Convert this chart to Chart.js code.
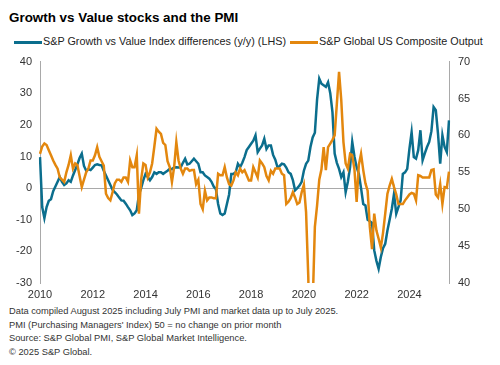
<!DOCTYPE html>
<html>
<head>
<meta charset="utf-8">
<script src="https://cdn.jsdelivr.net/npm/chart.js@4.4.1/dist/chart.umd.min.js"></script>
<style>
  body { margin: 0; width: 500px; height: 365px; background: #fff; position: relative; overflow: hidden;
         font-family: "Liberation Sans", Arial, sans-serif; }
  #title { position: absolute; left: 9px; top: 10px; font-size: 13.4px; font-weight: bold; color: #000; }
  #legend { position: absolute; left: 14px; top: 35px; font-size: 10.8px; color: #222; white-space: nowrap; }
  #legend span.sw { display: inline-block; width: 28px; height: 3px; vertical-align: middle; margin-right: 1px; }
  #legend span.gap { display: inline-block; width: 4px; }
  #notes { position: absolute; left: 9px; top: 305px; font-size: 9.3px; line-height: 13.5px; color: #333; }
  #wrap { position: absolute; left: 0; top: 46px; width: 500px; height: 258px; }
</style>
</head>
<body>
<div id="title">Growth vs Value stocks and the PMI</div>
<div id="legend"></div>
<div id="wrap"><canvas id="canvas" width="500" height="258"></canvas></div>
<div id="notes">
  Data compiled August 2025 including July PMI and market data up to July 2025.<br>
  PMI (Purchasing Managers' Index) 50 = no change on prior month<br>
  Source: S&amp;P Global PMI, S&amp;P Global Market Intelligence.<br>
  &copy; 2025 S&amp;P Global.
</div>
<script>
// monthly, Jan 2010 - Jul 2025
const startYear = 2010;
const yearTicks = ['2010', '2012', '2014', '2016', '2018', '2020', '2022', '2024'];
const seriesNames = ['S&P Growth vs Value Index differences (y/y) (LHS)', 'S&P Global US Composite Output'];

const growthValue = [
    9.8, -6, -9.5, -6, -4, -3.5, -1, 0.5, 2, 3.5, 2, 1,
    1.5, 2.5, 2, 4, 5.7, 7.5, 9.5, 10.9, 7, 5.5, 6, 5.7,
    6.5, 7.3, 7.5, 7.3, 7.2, 5.5, 4, 2.5, 1, -0.5, -1.3, -2,
    -3, -3.9, -4, -4.9, -6, -7, -8.5, -8, -7, -2, 0, 2.5,
    4.5, 3.5, 2.5, 3.5, 5, 4.5, 5, 5, 4.5, 5, 5.5, 6.1,
    6, 6.5, 6.6, 6.5, 6.6, 8, 9.3, 7.5, 7.7, 8.5, 9.3, 8.5,
    7.7, 5, 5, 4, 3.5, 3, 2, 0.5, -0.3, -5, -8, -8.5,
    -8, -5, -2, 4.5, 4.5, 5, 7.7, 6.6, 8, 9.8, 12, 13,
    14, 15, 16.7, 11.4, 12.5, 13.5, 15.6, 12.4, 13.5, 13.5, 10.5, 9,
    6.6, 7, 7.7, 7.5, 6.5, 5, 4.5, 2.5, -0.7, 0, 0.8, 2,
    5.5, 7.7, 8.7, 13, 16, 17.5, 28, 34.6, 33, 32.5, 32, 33.5,
    30, 24, 10.9, 8, 6.1, 3.5, 5, -1.3, 2, 6.6, 14.6, 10,
    6.6, 4.5, 0, -5, -5.5, -10, -10.5, -11, -19.7, -23, -25.5, -21.8,
    -19, -17.6, -13.4, -10, -6.5, -1.8, -8.1, -6, -3.9, 4.5, 5, 6.1,
    12.4, 17.7, 9.8, 9.3, 12, 18.3, 8.8, 11, 13, 14.6, 18, 25.6,
    24.6, 17.2, 7.7, 16.7, 13, 11.4, 21.4
];

const compositePmi = [
    57.5, 58.5, 58.9, 58.7, 58, 57.3, 56.6, 56, 55.5, 54.3, 54, 53.7,
    55, 56, 57.3, 55.5, 56.2, 56, 54.5, 53, 54, 55, 55.5, 56.6,
    56.6, 57.3, 58.4, 57.1, 56.5, 55.9, 52.1, 51.5, 51.2, 52.3, 53.5, 54,
    54, 53.7, 54.3, 54.3, 53.7, 56.6, 55.7, 55.7, 57.3, 49.4, 54, 56.2,
    56, 54.3, 55, 56.2, 58.5, 60.9, 60.5, 60.2, 59, 58.7, 56.5, 55.7,
    53.7, 55.7, 59.1, 56.6, 55.5, 54.8, 55.5, 55.5, 55.2, 55.3, 55.3, 53.4,
    54, 50.7, 50, 52.5, 51.2, 51.6, 51.6, 51.5, 51.5, 54.8, 54.6, 54.6,
    55.7, 54.3, 53.4, 53.2, 53.9, 55, 54.6, 55.5, 55, 55.3, 54.6, 53.9,
    53.9, 55.7, 55, 54.3, 56.6, 56.2, 55.7, 54.5, 53.9, 55.2, 54.8, 55.5,
    55.5, 55.5, 54.8, 54.6, 50.7, 51, 51.5, 52.3, 51.6, 50.7, 50.9, 52.3,
    53.3, 49.6, 40.9, 27, 37, 47.6, 50.5, 54, 55.4, 58.4, 55.3, 58.4,
    58.9, 59.4, 60, 64.3, 68.6, 64.8, 59.1, 56.2, 55.5, 57.5, 57.3, 55.4,
    51, 56, 57.5, 55.3, 53.5, 52.5, 47.6, 44.6, 49.4, 47.1, 46, 44.8,
    46.8, 49.4, 52.1, 53.2, 54.1, 53, 52, 50.7, 50.7, 50.7, 51.2, 51.6,
    52, 52.2, 52.1, 51.2, 54.6, 54.5, 54.3, 54.3, 54.3, 54.3, 55.3, 55.4,
    52, 51.6, 53.4, 50.7, 53, 52.9, 55.1
];

const tealColor = '#0b6e8d';
const orangeColor = '#e3870e';
const axisGray = '#a9a9a9';
const tickFont = { family: '"Liberation Sans", Arial, sans-serif', size: 11 };

// month labels for the category axis
let labels = [];
for (let i = 0; i < growthValue.length; i++) {
    labels.push((startYear + Math.floor(i / 12)) + '-' + (i % 12 + 1));
}

// legend
let legend = document.getElementById('legend');
legend.innerHTML =
    '<span class="sw" style="background:' + tealColor + '"></span>' + seriesNames[0].replace('&', '&amp;') +
    '<span class="gap"></span>' +
    '<span class="sw" style="background:' + orangeColor + '"></span>' + seriesNames[1].replace('&', '&amp;');

let ctx = document.getElementById('canvas').getContext('2d');
new Chart(ctx, {
    type: 'line',
    data: {
        labels: labels,
        datasets: [{
            label: seriesNames[1],
            data: compositePmi,
            yAxisID: 'y1',
            borderColor: orangeColor,
            borderWidth: 2.5,
            pointRadius: 0,
            tension: 0,
            order: 0
        }, {
            label: seriesNames[0],
            data: growthValue,
            yAxisID: 'y',
            borderColor: tealColor,
            borderWidth: 2.5,
            pointRadius: 0,
            tension: 0,
            order: 1
        }]
    },
    options: {
        responsive: false,
        animation: false,
        layout: { padding: { top: 6 } },
        plugins: {
            legend: { display: false },
            tooltip: { enabled: false }
        },
        scales: {
            x: {
                grid: { display: false, drawTicks: false },
                border: { display: false },
                ticks: {
                    autoSkip: false,
                    maxRotation: 0,
                    padding: 5,
                    color: '#333',
                    font: tickFont,
                    callback: function (v, i) {
                        return i % 24 === 0 ? yearTicks[i / 24] : '';
                    }
                },
                afterFit: function (s) { s.height = 21; }
            },
            y: {
                position: 'left',
                min: -30,
                max: 40,
                ticks: { stepSize: 10, padding: 8, color: '#333', font: tickFont },
                grid: {
                    drawTicks: false,
                    color: function (c) { return c.tick && c.tick.value === 0 ? axisGray : 'rgba(0,0,0,0)'; }
                },
                border: { color: axisGray },
                afterFit: function (s) { s.width = 40; }
            },
            y1: {
                position: 'right',
                min: 40,
                max: 70,
                ticks: { stepSize: 5, padding: 9, color: '#333', font: tickFont },
                grid: { display: false, drawTicks: false },
                border: { color: axisGray },
                afterFit: function (s) { s.width = 51; }
            }
        }
    }
});
</script>
</body>
</html>
